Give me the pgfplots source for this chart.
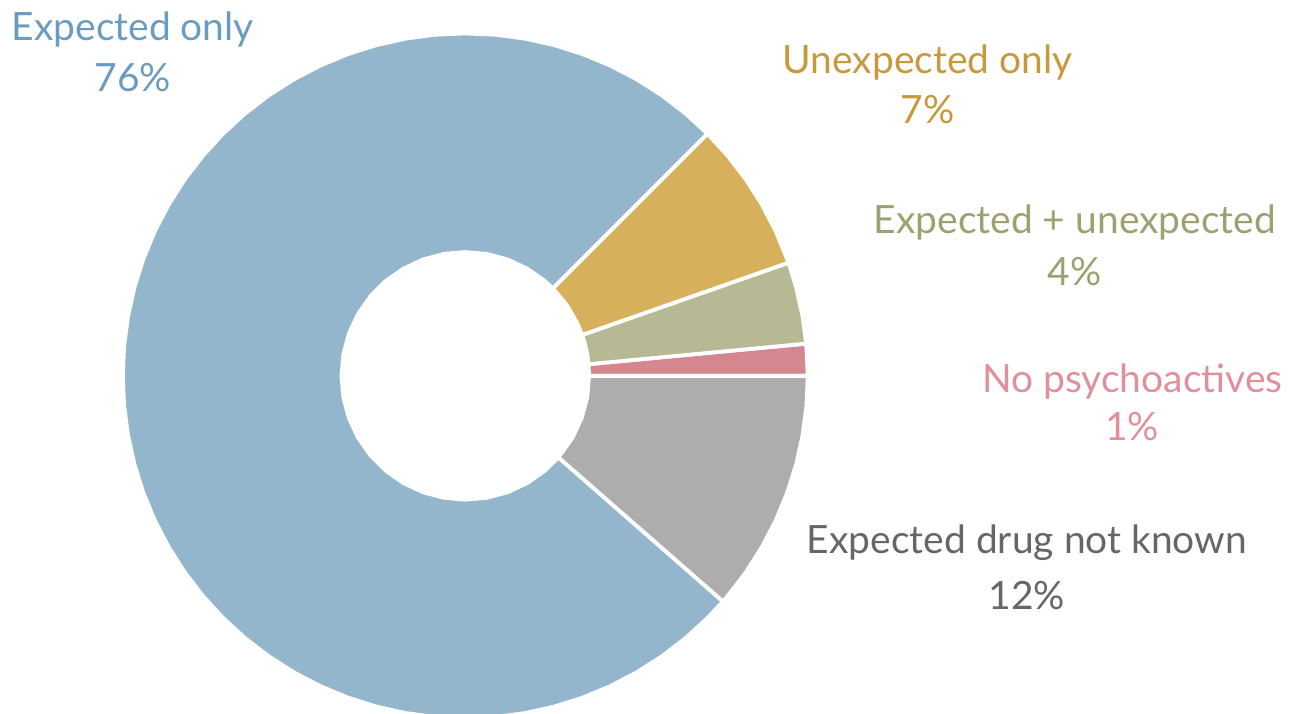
\documentclass[border=0pt]{standalone}
\usepackage{fontspec}
\setmainfont{Lato}
\usepackage{pgfplots}
\pgfplotsset{compat=1.18}
\definecolor{cExp}{HTML}{94B6CC}
\definecolor{cUnx}{HTML}{D7B05C}
\definecolor{cEU}{HTML}{B7B994}
\definecolor{cNo}{HTML}{D5868F}
\definecolor{cNK}{HTML}{ADADAD}
\definecolor{tExp}{HTML}{6A9CBF}
\definecolor{tUnx}{HTML}{C8993A}
\definecolor{tEU}{HTML}{9EA070}
\definecolor{tNo}{HTML}{E0909B}
\definecolor{tNK}{HTML}{666666}
\tikzset{
  slice/.style={draw=white, line width=1.1pt, line join=miter},
  lab/.style={anchor=base, font=\fontsize{11.1}{13}\selectfont},
}
\begin{document}
\begin{tikzpicture}
\begin{axis}[
  scale only axis, width=13.01cm, height=7.13cm,
  xmin=-464, xmax=837, ymin=-338, ymax=375,
  hide axis, clip mode=individual,
]
\path (axis cs:-464,-338) rectangle (axis cs:837,375);
% No psychoactives 1.5%
\addplot[slice, fill=cNo, data cs=polar] coordinates {
(0,343) (5.4,343) (5.4,124) (0,124)} -- cycle;
% Expected + unexpected 3.9%
\addplot[slice, fill=cEU, data cs=polar] coordinates {
(5.4,343) (10,343) (15,343) (19.3,343) (19.3,124) (15,124) (10,124) (5.4,124)} -- cycle;
% Unexpected only 7.1%
\addplot[slice, fill=cUnx, data cs=polar] coordinates {
(19.3,343) (25,343) (30,343) (35,343) (40,343) (45,343) (45,124) (35,124) (25,124) (19.3,124)} -- cycle;
% Expected only 76.1%
\addplot[slice, fill=cExp, data cs=polar] coordinates {
(45,343) (50,343) (55,343) (60,343) (65,343) (70,343) (75,343) (80,343) (85,343) (90,343)
(95,343) (100,343) (105,343) (110,343) (115,343) (120,343) (125,343) (130,343) (135,343) (140,343)
(145,343) (150,343) (155,343) (160,343) (165,343) (170,343) (175,343) (180,343) (185,343) (190,343)
(195,343) (200,343) (205,343) (210,343) (215,343) (220,343) (225,343) (230,343) (235,343) (240,343)
(245,343) (250,343) (255,343) (260,343) (265,343) (270,343) (275,343) (280,343) (285,343) (290,343)
(295,343) (300,343) (305,343) (310,343) (315,343) (318.8,343)
(318.8,124) (310,124) (300,124) (290,124) (280,124) (270,124) (260,124) (250,124) (240,124)
(230,124) (220,124) (210,124) (200,124) (190,124) (180,124) (170,124) (160,124) (150,124)
(140,124) (130,124) (120,124) (110,124) (100,124) (90,124) (80,124) (70,124) (60,124) (50,124) (45,124)} -- cycle;
% Expected drug not known 11.4%
\addplot[slice, fill=cNK, data cs=polar] coordinates {
(318.8,343) (320,343) (325,343) (330,343) (335,343) (340,343) (345,343) (350,343) (355,343) (360,343)
(360,124) (350,124) (340,124) (330,124) (318.8,124)} -- cycle;

\node[lab, text=tExp] at (axis cs:-333,336) {Expected only};
\node[lab, text=tExp] at (axis cs:-333,285) {76\%};
\node[lab, text=tUnx] at (axis cs:463,303) {Unexpected only};
\node[lab, text=tUnx] at (axis cs:463,253) {7\%};
\node[lab, text=tEU] at (axis cs:610.5,143) {Expected + unexpected};
\node[lab, text=tEU] at (axis cs:610.5,90) {4\%};
\node[lab, text=tNo] at (axis cs:668,-17) {No psychoactives};
\node[lab, text=tNo] at (axis cs:668,-65) {1\%};
\node[lab, text=tNK] at (axis cs:562.5,-178) {Expected drug not known};
\node[lab, text=tNK] at (axis cs:562.5,-234) {12\%};
\end{axis}
\end{tikzpicture}
\end{document}
